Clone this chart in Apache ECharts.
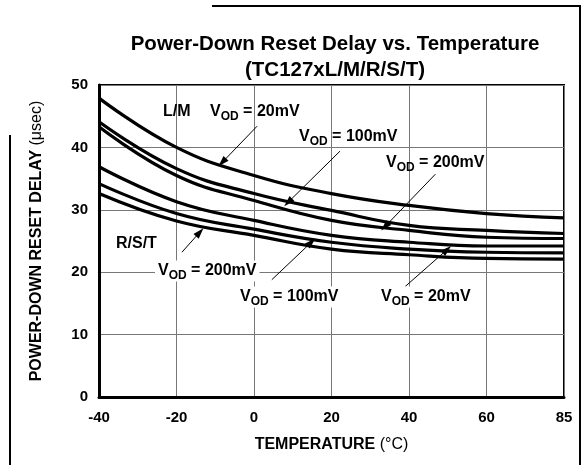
<!DOCTYPE html>
<html><head><meta charset="utf-8">
<script src="https://cdn.jsdelivr.net/npm/echarts@6/dist/echarts.min.js"></script>
<style>html,body{margin:0;padding:0;background:#fff}#c{width:584px;height:465px}</style>
</head><body><div id="c"></div>
<script>
// x tick labels (temperature, °C) – evenly spaced gridlines, last one is 85
const tempLabels = ['-40', '-20', '0', '20', '40', '60', '85'];
const yTicks = [0, 10, 20, 30, 40, 50];
// Power-down reset delay (µsec) at each temperature tick
const lm20  = [47.9, 40.0, 35.5, 32.6, 30.7, 29.4, 28.7];
const lm100 = [44.1, 36.6, 32.6, 29.9, 27.5, 26.7, 26.2];
const lm200 = [43.3, 35.5, 31.5, 28.3, 26.7, 25.6, 25.4];
const rst20  = [36.9, 31.3, 28.3, 25.9, 24.8, 24.2, 24.2];
const rst100 = [34.2, 29.4, 26.9, 24.8, 23.7, 23.2, 23.1];
const rst200 = [32.6, 28.2, 25.9, 23.7, 22.8, 22.2, 22.1];
// annotation arrows: [start, end] in (tick index, µsec)
const arrows = [
  [[2.04, 43.4], [1.59, 37.6]],
  [[3.11, 39.4], [2.44, 31.2]],
  [[4.34, 35.7], [3.69, 27.3]],
  [[1.07, 23.2], [1.30, 26.4]],
  [[2.23, 18.8], [2.74, 24.8]],
  [[3.95, 17.7], [4.49, 23.6]]
];

const F = 'Liberation Sans, Arial, Helvetica, sans-serif';
const chart = echarts.init(document.getElementById('c'), null, {renderer: 'canvas'});
function mk(vals) {
  return {
    type: 'line', data: vals.map((v, i) => [i, v]), smooth: 0.45, symbol: 'none',
    lineStyle: {color: '#000', width: 3.2}, z: 5
  };
}
const rich = {
  b: {fontSize: 16, fontWeight: 'bold', fontFamily: F, color: '#000'},
  s: {fontSize: 12, fontWeight: 'bold', fontFamily: F, color: '#000', padding: [9, 0, 0, 0]}
};
function vod(x, y, mv, bg) {
  return {
    type: 'text', x: x, y: y, z: 20,
    style: {text: '{b|V}{s|OD}{b| = ' + mv + 'mV}', rich: rich, verticalAlign: 'middle',
      backgroundColor: bg ? '#fff' : null, padding: bg ? [0, 3, 0, 3] : 0}
  };
}
function plain(x, y, t) {
  return {type: 'text', x: x, y: y, z: 20,
    style: {text: t, font: 'bold 16px ' + F, fill: '#000', verticalAlign: 'middle'}};
}
const nameRich = {
  b: {fontFamily: F, fontSize: 16, fontWeight: 'bold', color: '#000'},
  r: {fontFamily: F, fontSize: 16, fontWeight: 'normal', color: '#000'}
};
const option = {
  animation: false,
  backgroundColor: '#fff',
  title: {
    text: 'Power-Down Reset Delay vs. Temperature\n(TC127xL/M/R/S/T)',
    left: 330, top: 26, textAlign: 'center',
    textStyle: {fontFamily: F, fontSize: 20.5, fontWeight: 'bold', color: '#000', lineHeight: 26}
  },
  grid: {left: 99, right: 20, top: 85, bottom: 68, show: true, borderColor: '#000', borderWidth: 2},
  xAxis: {
    type: 'value', min: 0, max: 6, interval: 1,
    name: '{b|TEMPERATURE }{r|(°C)}', nameLocation: 'middle', nameGap: 40,
    nameTextStyle: {rich: nameRich},
    axisLine: {show: true, lineStyle: {color: '#000', width: 3}},
    axisTick: {show: false},
    splitLine: {show: true, lineStyle: {color: '#777', width: 1}},
    axisLabel: {formatter: v => tempLabels[v], margin: 13, fontFamily: F, fontSize: 15, fontWeight: 'bold', color: '#000'}
  },
  yAxis: {
    type: 'value', min: yTicks[0], max: yTicks[yTicks.length - 1], interval: 10,
    name: '{b|POWER-DOWN RESET DELAY }{r|(μsec)}', nameLocation: 'middle', nameGap: 54, nameRotate: 90,
    nameTextStyle: {rich: nameRich},
    axisLine: {show: true, lineStyle: {color: '#000', width: 3}},
    axisTick: {show: false},
    splitLine: {show: true, lineStyle: {color: '#777', width: 1}},
    axisLabel: {margin: 11, fontFamily: F, fontSize: 15, fontWeight: 'bold', color: '#000'}
  },
  series: [
    mk(lm20), mk(lm100), mk(lm200), mk(rst20), mk(rst100), mk(rst200),
    {
      type: 'line', data: [], z: 10,
      markLine: {
        silent: true, symbol: ['none', 'triangle'], symbolSize: [7, 11],
        lineStyle: {color: '#000', width: 1, type: 'solid'},
        label: {show: false},
        data: arrows.map(a => [{coord: a[0]}, {coord: a[1]}])
      }
    }
  ],
  graphic: [
    {type: 'line', shape: {x1: 10, y1: 135, x2: 10, y2: 465}, style: {stroke: '#000', lineWidth: 2}},
    {type: 'line', shape: {x1: 212, y1: 6, x2: 581, y2: 6}, style: {stroke: '#000', lineWidth: 2}},
    {type: 'line', shape: {x1: 580, y1: 6, x2: 580, y2: 465}, style: {stroke: '#000', lineWidth: 2}},
    plain(163, 112, 'L/M'),
    vod(210, 112, 20),
    vod(299, 137, 100),
    vod(386, 163, 200),
    plain(116, 244, 'R/S/T'),
    vod(155, 271, 200, true),
    vod(237, 297, 100, true),
    vod(378, 297, 20, true)
  ]
};
chart.setOption(option);
</script></body></html>
